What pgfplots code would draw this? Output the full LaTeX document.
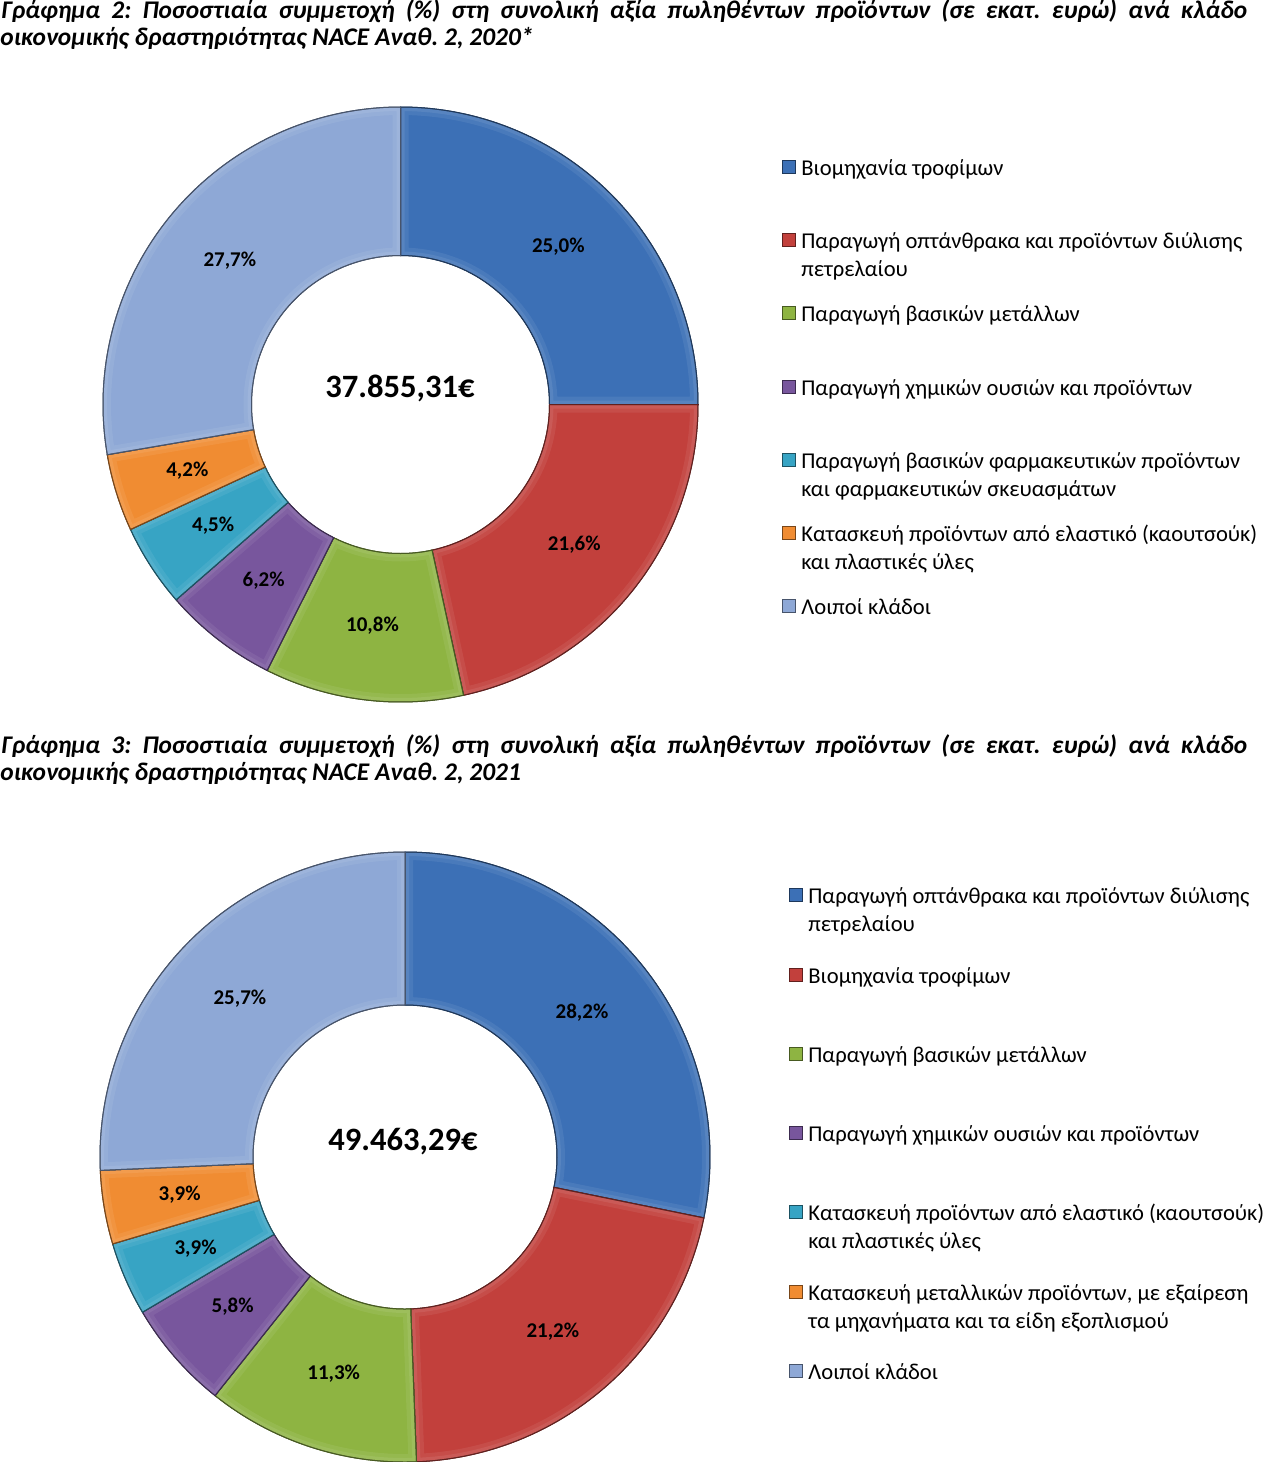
\documentclass[border=0pt]{standalone}
\usepackage{pgfplots}
\pgfplotsset{compat=1.18}
\usepackage{fontspec}
\setmainfont{Carlito}
\frenchspacing
\definecolor{c1}{RGB}{60,112,182}
\definecolor{c2}{RGB}{194,64,60}
\definecolor{c3}{RGB}{142,180,66}
\definecolor{c4}{RGB}{120,86,157}
\definecolor{c5}{RGB}{55,164,196}
\definecolor{c6}{RGB}{240,140,50}
\definecolor{c7}{RGB}{142,168,214}
\newcommand\titlefont{\fontsize{12.7}{13.5}\selectfont\bfseries\itshape}
\newcommand\legfont{\fontsize{11.3}{14}\selectfont}
\newcommand\lblfont{\fontsize{10.5}{12}\selectfont\bfseries}
\newcommand\ctrfont{\fontsize{16.3}{18}\selectfont\bfseries}
% values (percent), clockwise from 12 o'clock
\def\valsA{25.0,21.6,10.8,6.2,4.5,4.2,27.7}
\def\valsB{28.2,21.2,11.3,5.8,3.9,3.9,25.7}
\newcommand\donut[3]{%
 \pgfplotsextra{%
  \xdef\angs{90}%
  \foreach \v [count=\i] in #1 {%
    \pgfmathsetmacro\s{\angs}%
    \pgfmathsetmacro\e{\angs-3.6*\v}%
    \pgfmathsetmacro\m{(\s+\e)/2}%
    \begin{scope}[shift={(axis cs:0,0)}]
     \path[fill=c\i, draw=c\i!50!black, line width=0.5pt] (\s:#2) arc[start angle=\s,end angle=\e,radius=#2] -- (\e:#3) arc[start angle=\e,end angle=\s,radius=#3] -- cycle;
     \begin{scope}
      \clip (\s:#2) arc[start angle=\s,end angle=\e,radius=#2] -- (\e:#3) arc[start angle=\e,end angle=\s,radius=#3] -- cycle;
      \draw[white, opacity=0.07, line width=8pt] (\s:#2) arc[start angle=\s,end angle=\e,radius=#2] -- (\e:#3) arc[start angle=\e,end angle=\s,radius=#3] -- cycle;
      \draw[white, opacity=0.08, line width=4pt] (\s:#2) arc[start angle=\s,end angle=\e,radius=#2] -- (\e:#3) arc[start angle=\e,end angle=\s,radius=#3] -- cycle;
     \end{scope}
     \path[draw=c\i!50!black, line width=0.5pt] (\s:#2) arc[start angle=\s,end angle=\e,radius=#2] -- (\e:#3) arc[start angle=\e,end angle=\s,radius=#3] -- cycle;
     \node[font=\lblfont, inner sep=0] at (\m:{(#2+#3)/2}) {\pgfmathprintnumber[fixed,fixed zerofill,precision=1,use comma,assume math mode=true]{\v}\%};
    \end{scope}
    \xdef\angs{\e}%
  }%
 }%
}
\newcommand\legitem[5]{%
  \fill[#3, draw=#3!50!black, line width=0.3pt] (#1,#2-15) rectangle ++(13,13);
  \node[anchor=base west, inner sep=0, font=\legfont] at (#1+19,#2) {#4};
  \node[anchor=base west, inner sep=0, font=\legfont] at (#1+19,#2+28) {#5};
}
\begin{document}
\begin{tikzpicture}
\useasboundingbox (0,0) rectangle (633pt,-731pt);
% Chart 1
\begin{axis}[at={(200.25pt,-202.25pt)}, anchor=center, x=0.5pt, y=0.5pt,
  xmin=-300, xmax=300, ymin=-300, ymax=300, hide axis, clip=false]
\addplot[draw=none, forget plot] coordinates {(0,0)};
\donut{\valsA}{148.75pt}{74.5pt}
\end{axis}
% Chart 2
\begin{axis}[at={(202.5pt,-578.5pt)}, anchor=center, x=0.5pt, y=0.5pt,
  xmin=-300, xmax=300, ymin=-300, ymax=300, hide axis, clip=false]
\addplot[draw=none, forget plot] coordinates {(0,0)};
\donut{\valsB}{152.5pt}{76pt}
\end{axis}
\begin{scope}[x=0.5pt, y=-0.5pt]
\node[anchor=base west, inner sep=0, font=\titlefont] at (1,18)
 {\makebox[623pt][s]{Γράφημα 2: Ποσοστιαία συμμετοχή (\%) στη συνολική αξία πωληθέντων προϊόντων (σε εκατ. ευρώ) ανά κλάδο}};
\node[anchor=base west, inner sep=0, font=\titlefont] at (0,45)
 {οικονομικής δραστηριότητας NACE Αναθ. 2, 2020*};
\node[anchor=base west, inner sep=0, font=\titlefont] at (1,753)
 {\makebox[623pt][s]{Γράφημα 3: Ποσοστιαία συμμετοχή (\%) στη συνολική αξία πωληθέντων προϊόντων (σε εκατ. ευρώ) ανά κλάδο}};
\node[anchor=base west, inner sep=0, font=\titlefont] at (0,780)
 {οικονομικής δραστηριότητας NACE Αναθ. 2, 2021};
\node[anchor=base, inner sep=0, font=\ctrfont] at (400,397) {37.855,31€};
\node[anchor=base, inner sep=0, font=\ctrfont] at (403,1150) {49.463,29€};
% Legend 1
\legitem{782}{175}{c1}{Βιομηχανία τροφίμων}{}
\legitem{782}{248}{c2}{Παραγωγή οπτάνθρακα και προϊόντων διύλισης}{πετρελαίου}
\legitem{782}{321}{c3}{Παραγωγή βασικών μετάλλων}{}
\legitem{782}{395}{c4}{Παραγωγή χημικών ουσιών και προϊόντων}{}
\legitem{782}{468}{c5}{Παραγωγή βασικών φαρμακευτικών προϊόντων}{και φαρμακευτικών σκευασμάτων}
\legitem{782}{541}{c6}{Κατασκευή προϊόντων από ελαστικό (καουτσούκ)}{και πλαστικές ύλες}
\legitem{782}{614}{c7}{Λοιποί κλάδοι}{}
% Legend 2
\legitem{789}{903}{c1}{Παραγωγή οπτάνθρακα και προϊόντων διύλισης}{πετρελαίου}
\legitem{789}{983}{c2}{Βιομηχανία τροφίμων}{}
\legitem{789}{1062}{c3}{Παραγωγή βασικών μετάλλων}{}
\legitem{789}{1141}{c4}{Παραγωγή χημικών ουσιών και προϊόντων}{}
\legitem{789}{1220}{c5}{Κατασκευή προϊόντων από ελαστικό (καουτσούκ)}{και πλαστικές ύλες}
\legitem{789}{1300}{c6}{Κατασκευή μεταλλικών προϊόντων, με εξαίρεση}{τα μηχανήματα και τα είδη εξοπλισμού}
\legitem{789}{1379}{c7}{Λοιποί κλάδοι}{}
\end{scope}
\end{tikzpicture}
\end{document}
